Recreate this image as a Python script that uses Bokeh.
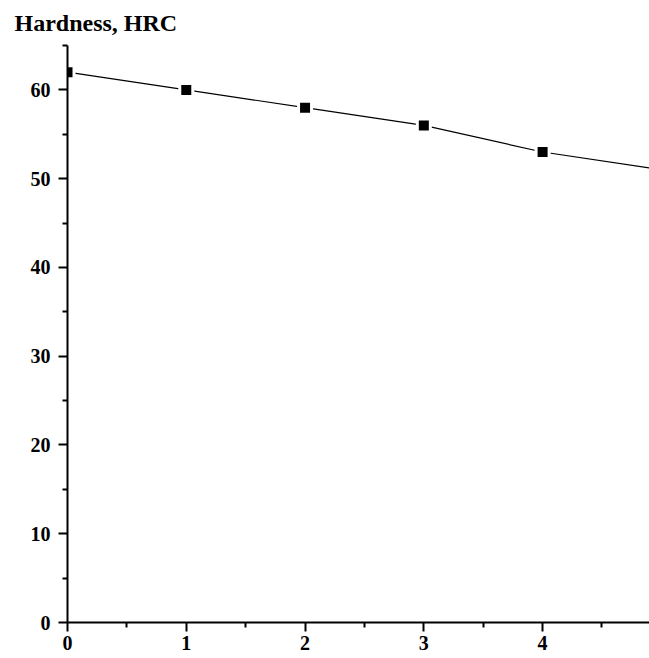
from bokeh.plotting import figure
from bokeh.models import Range1d, FixedTicker
from bokeh.embed import file_html
from bokeh.resources import INLINE

# Data
time_points = [0, 1, 2, 3, 4, 5]
hardness = [62, 60, 58, 56, 53, 51]

x_major = [0, 1, 2, 3, 4]
x_minor = [0.5, 1.5, 2.5, 3.5, 4.5]
y_major = [0, 10, 20, 30, 40, 50, 60]
y_minor = [5, 15, 25, 35, 45, 55, 65]

title_text = "Hardness, HRC"
FONT = "Liberation Serif"

p = figure(width=649, height=658, output_backend="svg", toolbar_location=None,
           x_range=Range1d(0, 4.9), y_range=Range1d(0, 65),
           min_border_left=67, min_border_top=45, min_border_bottom=36,
           min_border_right=0)
p.outline_line_color = None
p.grid.visible = False
p.background_fill_color = "white"
p.border_fill_color = "white"

p.line(time_points, hardness, line_color="black", line_width=1.2)
p.scatter(time_points, hardness, marker="square", size=16,
          fill_color="white", line_color=None)
p.scatter(time_points, hardness, marker="square", size=10,
          fill_color="black", line_color=None)

p.xaxis.ticker = FixedTicker(ticks=x_major, minor_ticks=x_minor)
p.yaxis.ticker = FixedTicker(ticks=y_major, minor_ticks=y_minor)

for ax in (p.xaxis[0], p.yaxis[0]):
    ax.axis_line_width = 2
    ax.axis_line_color = "black"
    ax.major_tick_line_width = 2
    ax.minor_tick_line_width = 2
    ax.major_tick_line_color = "black"
    ax.minor_tick_line_color = "black"
    ax.major_tick_out = 9
    ax.major_tick_in = 0
    ax.minor_tick_out = 5
    ax.minor_tick_in = 0
    ax.major_label_text_font = FONT
    ax.major_label_text_font_style = "bold"
    ax.major_label_text_font_size = "20px"
    ax.major_label_text_color = "black"

p.xaxis.major_label_standoff = 4
p.yaxis.major_label_standoff = 8

p.title.text = title_text
p.title.text_font = FONT
p.title.text_font_style = "bold"
p.title.text_font_size = "24px"
p.title.text_color = "black"
p.title.align = "left"
p.title.vertical_align = "top"
p.title.offset = -53
p.title.standoff = 15

open("out.html", "w").write(file_html(p, INLINE))
